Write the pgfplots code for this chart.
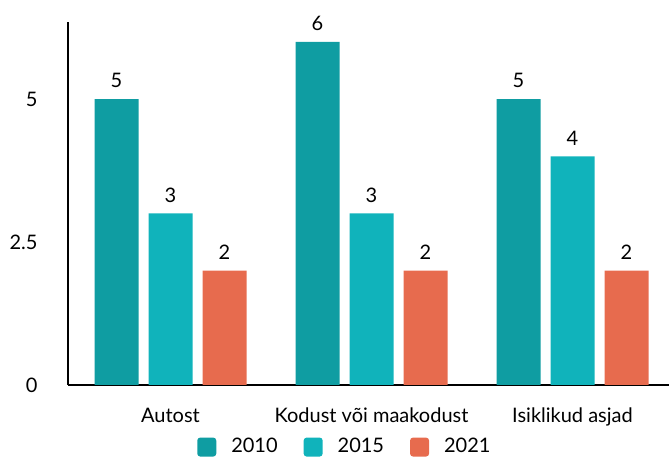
\documentclass[border=0pt]{standalone}
\usepackage{pgfplots}
\pgfplotsset{compat=1.18}
\usepackage{fontspec}
\setmainfont{Lato}
\definecolor{cA}{HTML}{0F9DA2}
\definecolor{cB}{HTML}{10B3BB}
\definecolor{cC}{HTML}{E76B4E}
\begin{document}
\begin{tikzpicture}
\begin{axis}[
  scale only axis,
  width=300.5pt, height=181.5pt,
  xmin=-0.51, xmax=2.48, ymin=0, ymax=6.35,
  ybar=5pt, bar width=22pt,
  axis x line=bottom, axis y line=left,
  axis line style={-, line width=1pt, black},
  xtick={0,1,2},
  xticklabels={Autost, Kodust või maakodust, Isiklikud asjad},
  ytick={0,2.5,5},
  yticklabels={0,2.5,5},
  tick style={draw=none},
  major tick length=0pt,
  /pgf/number format/assume math mode=true,
  font=\fontsize{10}{12}\selectfont,
  yticklabel style={xshift=-11.7pt, font=\fontsize{10}{12}\selectfont},
  xticklabel style={yshift=-8pt, font=\fontsize{10}{12}\selectfont},
  nodes near coords,
  nodes near coords style={yshift=2pt, font=\fontsize{10}{12}\selectfont, black},
  legend columns=3,
  legend style={draw=none, fill=none, at={(0.459,-0.171)}, anchor=center,
    font=\fontsize{10}{12}\selectfont,
    nodes={inner sep=0pt},
    /tikz/every odd column/.append style={column sep=7.5pt},
    /tikz/every even column/.append style={column sep=13pt},
    inner sep=0pt},
  legend image code/.code={\draw[#1, draw=none, rounded corners=1.5pt] (0pt,-4.75pt) rectangle (9.5pt,4.75pt);},
]
\addplot[fill=cA, draw=none] coordinates {(0,5) (1,6) (2,5)};
\addplot[fill=cB, draw=none] coordinates {(0,3) (1,3) (2,4)};
\addplot[fill=cC, draw=none] coordinates {(0,2) (1,2) (2,2)};
\legend{2010,2015,2021}
\coordinate (SW) at (rel axis cs:0,0);
\end{axis}
\pgfresetboundingbox
\path[use as bounding box] ([shift={(-34pt,-36.5pt)}]SW) rectangle ++(334.5pt,229pt);
\end{tikzpicture}
\end{document}
